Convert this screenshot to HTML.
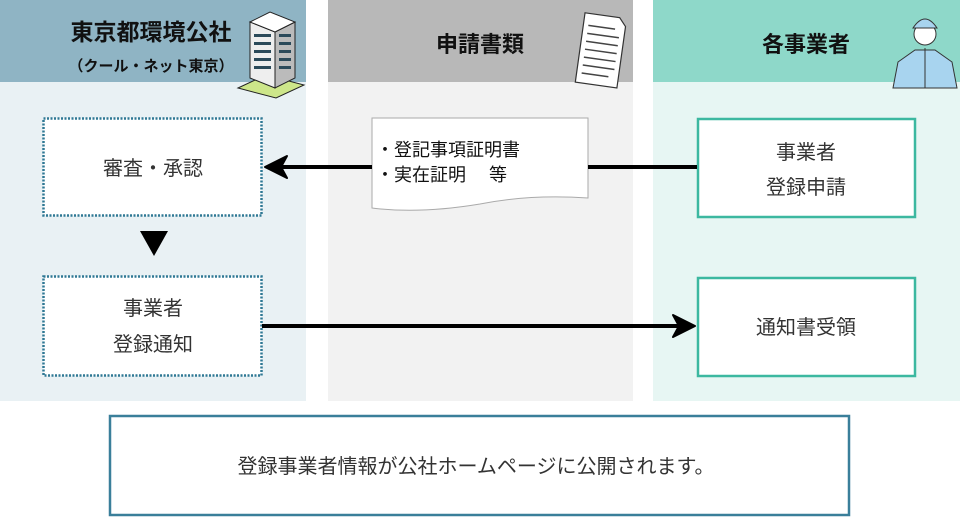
<!DOCTYPE html>
<html><head><meta charset="utf-8"><style>
html,body{margin:0;padding:0;background:#fff;}
svg text{font-family:"Liberation Sans","Noto Sans CJK JP",sans-serif;}
</style></head><body>
<svg width="960" height="517" viewBox="0 0 960 517" xmlns="http://www.w3.org/2000/svg">
<rect x="0" y="0" width="306" height="82" fill="#8fb4c4"/>
<rect x="0" y="82" width="306" height="319" fill="#e9f1f4"/>
<rect x="328" y="0" width="305" height="82" fill="#b8b8b8"/>
<rect x="328" y="82" width="305" height="319" fill="#f2f2f2"/>
<rect x="653" y="0" width="307" height="82" fill="#8ed8c9"/>
<rect x="653" y="82" width="307" height="319" fill="#e7f6f3"/>

<text x="151" y="40" font-size="23" font-weight="bold" text-anchor="middle" fill="#111">東京都環境公社</text>
<text x="151" y="71" font-size="15" font-weight="bold" text-anchor="middle" fill="#111">（クール・ネット東京）</text>
<text x="480" y="52" font-size="22" font-weight="bold" text-anchor="middle" fill="#111">申請書類</text>
<text x="806" y="52" font-size="22" font-weight="bold" text-anchor="middle" fill="#111">各事業者</text>

<!-- building icon -->
<g stroke="#222" stroke-width="1">
<polygon points="238,88 266,75 304,85 276,98" fill="#cde68a"/>
<polygon points="250,22 275,32 275,88 250,78" fill="#eee"/>
<polygon points="275,32 295,22 295,78 275,88" fill="#bbb"/>
<polygon points="250,22 270,12 295,22 275,32" fill="#fff"/>
</g>
<g fill="#2b4a5a">
<rect x="254" y="34" width="17" height="3"/><rect x="254" y="42" width="17" height="3"/><rect x="254" y="50" width="17" height="3"/><rect x="254" y="58" width="17" height="3"/><rect x="254" y="66" width="17" height="3"/>
<rect x="279" y="34" width="12" height="3"/><rect x="279" y="42" width="12" height="3"/><rect x="279" y="50" width="12" height="3"/><rect x="279" y="58" width="12" height="3"/><rect x="279" y="66" width="12" height="3"/>
</g>
<!-- document icon -->
<g transform="rotate(8 598 50)">
<path d="M580,15 L615,15 L622,23 L622,85 L580,85 Z" fill="#fff" stroke="#333" stroke-width="1.2"/>
<g stroke="#444" stroke-width="1.5"><line x1="585" y1="27" x2="612" y2="27"/><line x1="585" y1="35" x2="617" y2="35"/><line x1="585" y1="43" x2="617" y2="43"/><line x1="585" y1="51" x2="617" y2="51"/><line x1="585" y1="59" x2="617" y2="59"/><line x1="585" y1="67" x2="617" y2="67"/><line x1="585" y1="75" x2="612" y2="75"/></g>
</g>
<!-- worker icon -->
<g stroke="#333" stroke-width="1">
<path d="M893,88 L898,62 L915,50 L935,50 L952,62 L957,88 Z" fill="#a8d4ef"/>
<circle cx="925" cy="34" r="11" fill="#fff"/>
<path d="M913,28 Q925,10 937,28 Z" fill="#a8d4ef"/>
<line x1="925" y1="48" x2="925" y2="88"/>
</g>

<!-- boxes -->
<rect x="43.5" y="118.5" width="218" height="97" fill="#fff" stroke="#2f7894" stroke-width="2.5" stroke-dasharray="2,1.5"/>
<text x="153" y="175" font-size="20" text-anchor="middle" fill="#333">審査・承認</text>
<polygon points="140,231 168,231 154,256" fill="#000"/>
<rect x="43.5" y="276.5" width="218" height="99" fill="#fff" stroke="#2f7894" stroke-width="2.5" stroke-dasharray="2,1.5"/>
<text x="153" y="315" font-size="20" text-anchor="middle" fill="#333">事業者</text>
<text x="153" y="351" font-size="20" text-anchor="middle" fill="#333">登録通知</text>

<rect x="698" y="119" width="217" height="98" fill="#fff" stroke="#3cb8a0" stroke-width="2.5"/>
<text x="806" y="159" font-size="20" text-anchor="middle" fill="#333">事業者</text>
<text x="806" y="194" font-size="20" text-anchor="middle" fill="#333">登録申請</text>
<rect x="698" y="278" width="217" height="98" fill="#fff" stroke="#3cb8a0" stroke-width="2.5"/>
<text x="806" y="334" font-size="20" text-anchor="middle" fill="#333">通知書受領</text>

<!-- document shape -->
<path d="M372,118 L588,118 L588,198 Q530,194 480,204 Q420,214 372,208 Z" fill="#fff" stroke="#aaa" stroke-width="1"/>
<text x="376" y="156" font-size="18" fill="#111">・登記事項証明書</text>
<text x="376" y="181" font-size="18" fill="#111">・実在証明　 等</text>

<!-- arrows -->
<line x1="588" y1="167" x2="697" y2="167" stroke="#000" stroke-width="4"/>
<line x1="280" y1="167" x2="372" y2="167" stroke="#000" stroke-width="4"/>
<path d="M287,156 L265,167 L287,178 L281,167 Z" fill="#000" stroke="#000" stroke-width="2" stroke-linejoin="round"/>
<line x1="262" y1="326" x2="690" y2="326" stroke="#000" stroke-width="4"/>
<path d="M673,315 L695,326 L673,337 L679,326 Z" fill="#000" stroke="#000" stroke-width="2" stroke-linejoin="round"/>

<rect x="110" y="416" width="739" height="99" fill="#fff" stroke="#3a7f9a" stroke-width="2.5"/>
<text x="476" y="473" font-size="20" text-anchor="middle" fill="#333">登録事業者情報が公社ホームページに公開されます。</text>
</svg>
</body></html>
